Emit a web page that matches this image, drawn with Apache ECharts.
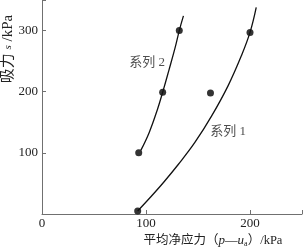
<!DOCTYPE html>
<html>
<head>
<meta charset="utf-8">
<script src="https://cdn.jsdelivr.net/npm/echarts@6/dist/echarts.min.js"></script>
<style>
  html, body { margin: 0; padding: 0; background: #fff; }
  #chart { width: 305px; height: 248px; }
</style>
</head>
<body>
<div id="chart"></div>
<script>
// measured points
var pts1 = [[92, 5], [162, 198], [200, 297]];
var pts2 = [[93, 100], [116, 199], [132, 300]];
// fitted curves
var curve1 = [[92, 5], [104, 27], [117, 52], [131, 81], [147, 117], [163, 160], [179, 210], [192, 260], [200, 297], [206, 338]];
var curve2 = [[95, 104], [103, 133], [111, 171], [116, 199], [122, 235], [128, 272], [132, 300], [136, 324]];
// curve labels: [x, y, text]
var curveLabels = [[101, 247, '系列 2'], [179, 135, '系列 1']];

var serif = "'Liberation Serif', 'Noto Sans CJK SC', serif";
var axisColor = '#707070';
var textColor = '#222';

var chart = echarts.init(document.getElementById('chart'));
chart.setOption({
  animation: false,
  grid: { left: 42, right: 1, top: 0, bottom: 34 },
  xAxis: {
    type: 'value',
    min: 0, max: 250, interval: 100,
    axisLine: { show: true, lineStyle: { color: axisColor, width: 1 } },
    axisTick: { show: true, inside: true, length: 4, lineStyle: { color: axisColor } },
    splitLine: { show: false },
    axisLabel: {
      margin: 3, color: textColor, fontSize: 13, fontFamily: serif,
      formatter: function (v) { return v === 250 ? '' : String(v); }
    }
  },
  yAxis: {
    type: 'value',
    min: 0, max: 350, interval: 100,
    axisLine: { show: true, lineStyle: { color: axisColor, width: 1 } },
    axisTick: { show: true, inside: true, length: 4, lineStyle: { color: axisColor } },
    splitLine: { show: false },
    axisLabel: {
      margin: 4, color: textColor, fontSize: 13, fontFamily: serif,
      formatter: function (v) { return (v === 0 || v === 350) ? '' : String(v); }
    }
  },
  graphic: [
    {
      type: 'text', x: 213, y: 241,
      style: {
        text: '平均净应力（{i|p}—{i|u}{sub|a}）/kPa',
        align: 'center', verticalAlign: 'middle',
        fill: textColor, font: '12.5px ' + serif,
        rich: {
          i: { fontStyle: 'italic', fontSize: 13, fontFamily: serif, fill: textColor },
          sub: { fontSize: 8, fontFamily: serif, fill: textColor, padding: [6, 0, 0, 0] }
        }
      }
    },
    {
      type: 'text', x: 8, y: 49, rotation: Math.PI / 2,
      style: {
        text: '吸力 {s|s} /kPa',
        align: 'center', verticalAlign: 'middle',
        fill: textColor, font: '15px ' + serif,
        rich: {
          s: { fontStyle: 'italic', fontSize: 11, fontFamily: serif, fill: textColor }
        }
      }
    }
  ],
  series: [
    {
      type: 'line', data: curve1, smooth: 0.4, showSymbol: false,
      lineStyle: { color: '#111', width: 1.3 }
    },
    {
      type: 'line', data: curve2, smooth: 0.4, showSymbol: false,
      lineStyle: { color: '#111', width: 1.3 }
    },
    {
      type: 'scatter', data: pts1, symbolSize: 7,
      itemStyle: { color: '#000' }
    },
    {
      type: 'scatter', data: pts2, symbolSize: 7,
      itemStyle: { color: '#000' }
    },
    {
      type: 'scatter', data: curveLabels, symbolSize: 0, silent: true,
      label: {
        show: true, position: 'inside', color: textColor, fontSize: 13, fontFamily: serif,
        formatter: function (p) { return p.value[2]; }
      }
    }
  ]
});
</script>
</body>
</html>
